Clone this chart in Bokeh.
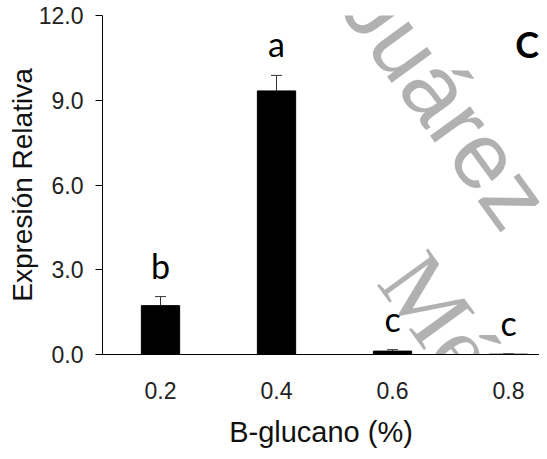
from bokeh.plotting import figure
from bokeh.models import (Range1d, FixedTicker, PrintfTickFormatter, Whisker, TeeHead,
                          ColumnDataSource, LabelSet, Label)
from bokeh.core.properties import value
from bokeh.embed import file_html
from bokeh.resources import INLINE

# ---- data ----
categories = ["0.2", "0.4", "0.6", "0.8"]
values = [1.73, 9.33, 0.12, 0.01]
errors = [0.32, 0.55, 0.05, 0.01]
letters = ["b", "a", "c", "c"]
y_ticks = [0, 3, 6, 9, 12]

xs = list(range(len(categories)))
upper = [v + e for v, e in zip(values, errors)]
src = ColumnDataSource(dict(x=xs, top=values, upper=upper, letter=letters))

p = figure(width=539, height=451, output_backend="svg", toolbar_location=None,
           x_range=Range1d(-0.5, 3.267), y_range=Range1d(0, 12),
           min_border_left=102, min_border_right=0, min_border_top=15, min_border_bottom=97)
p.outline_line_color = None
p.grid.visible = False
p.background_fill_color = "white"

# watermark (drawn first so the chart sits on top)
for t, x, y, f, s in [("Juárez", 1.75, 12.95, "Liberation Sans", "94px"),
                      ("México", 2.08, 3.2, "Liberation Serif", "96px")]:
    p.add_layout(Label(x=x, y=y, text=t, angle=-54, angle_units="deg",
                       text_align="left", text_baseline="middle",
                       text_font=f, text_font_size=s,
                       text_color="#a8a8a8", text_alpha=0.9, level="underlay"))

p.vbar(x="x", top="top", bottom=0, width=0.33, source=src, fill_color="black", line_color="black")

wh = Whisker(base="x", lower="top", upper="upper", source=src, dimension="height",
             line_color="#333333", line_width=1,
             upper_head=TeeHead(size=11, line_color="#333333", line_width=1), lower_head=None)
p.add_layout(wh)

lbls = LabelSet(x="x", y="upper", text="letter", source=src, y_offset=18,
                text_align="center", text_baseline="alphabetic",
                text_font=value("Lato"), text_font_size=value("34px"), text_color="black")
p.add_layout(lbls)

# panel letter
p.add_layout(Label(x=3.16, y=11.0, text="C", text_align="center", text_baseline="alphabetic",
                   text_font="Lato", text_font_style="bold", text_font_size="36px", text_color="black"))

# y axis
ya = p.yaxis[0]
ya.ticker = FixedTicker(ticks=y_ticks)
ya.formatter = PrintfTickFormatter(format="%.1f")
ya.minor_tick_line_color = None
ya.major_tick_in = 0
ya.major_tick_out = 7
ya.major_label_standoff = 12
ya.axis_label = "Expresión Relativa"
ya.axis_label_standoff = -2

# x axis
xa = p.xaxis[0]
xa.ticker = FixedTicker(ticks=xs)
xa.major_label_overrides = {i: c for i, c in zip(xs, categories)}
xa.minor_tick_line_color = None
xa.major_tick_in = 0
xa.major_tick_out = 0
xa.major_label_standoff = 27
xa.axis_label = "B-glucano (%)"
xa.axis_label_standoff = 14

for ax in (xa, ya):
    ax.axis_line_color = "black"
    ax.major_tick_line_color = "black"
    ax.major_label_text_font = "Liberation Sans"
    ax.major_label_text_font_size = "23px"
    ax.major_label_text_color = "#222222"
    ax.axis_label_text_font = "Liberation Sans"
    ax.axis_label_text_font_style = "normal"
    ax.axis_label_text_color = "#111111"
ya.axis_label_text_font_size = "28px"
xa.axis_label_text_font_size = "29px"

open("out.html", "w").write(file_html(p, INLINE))
